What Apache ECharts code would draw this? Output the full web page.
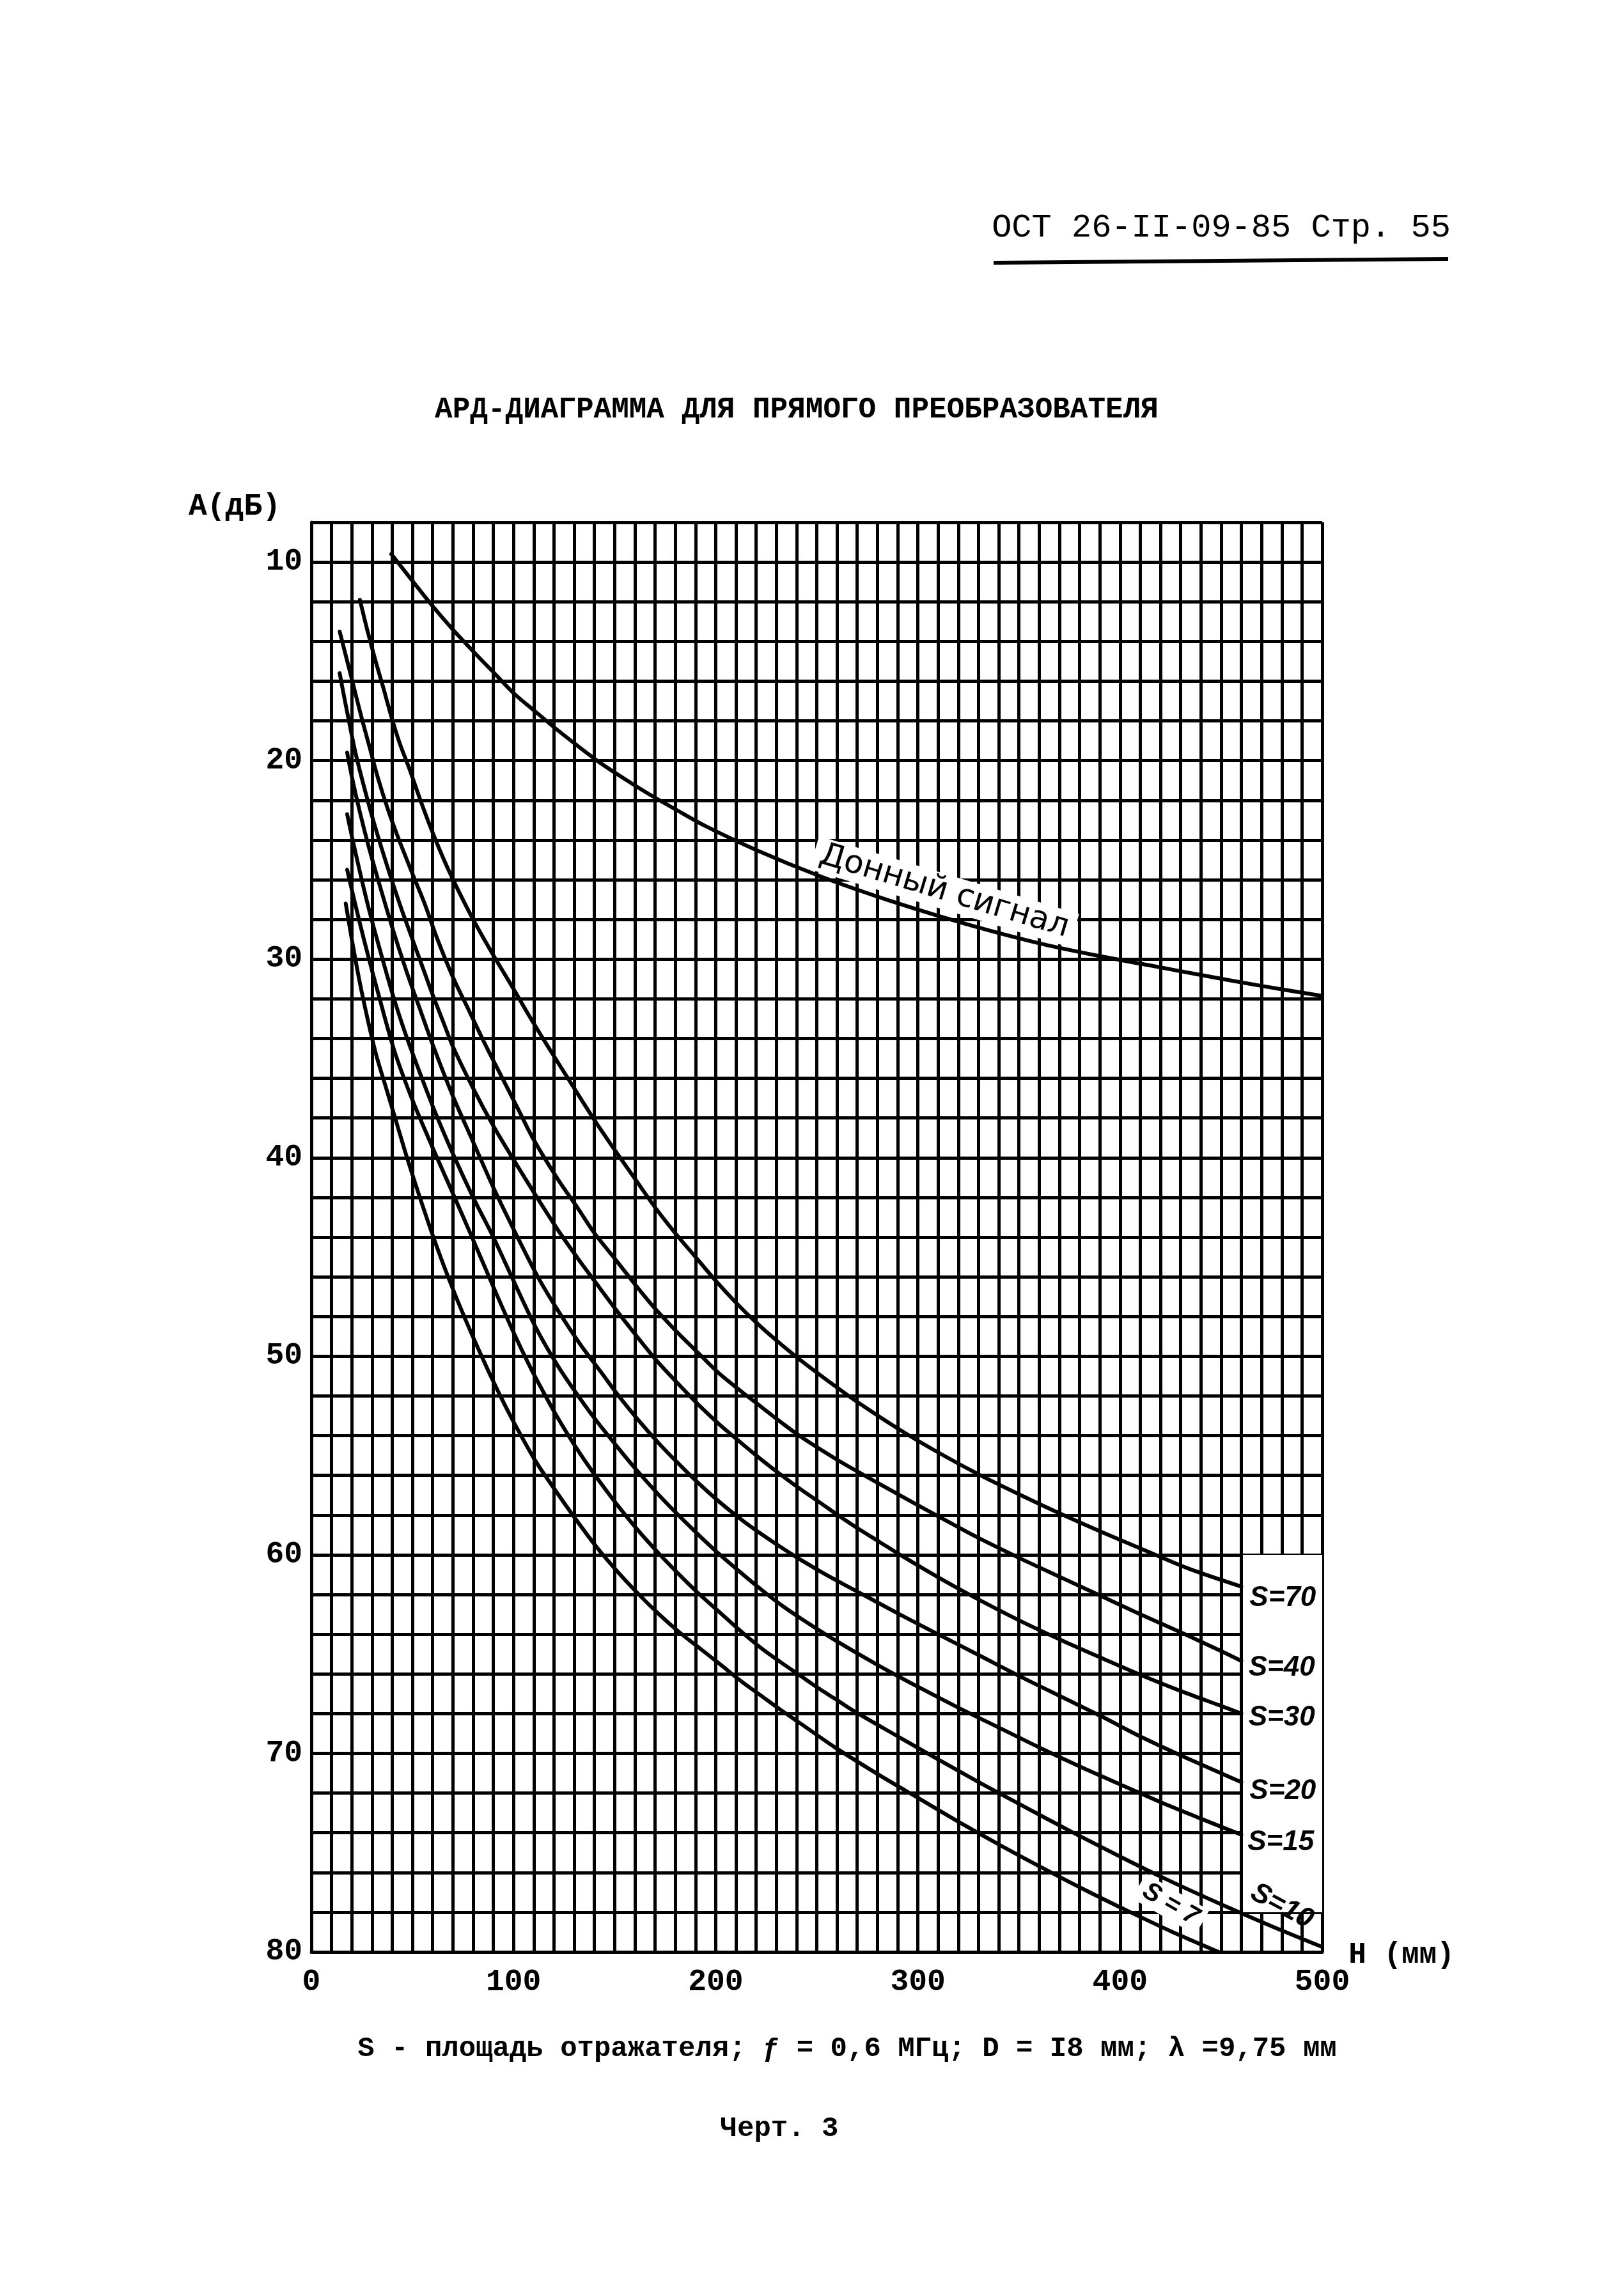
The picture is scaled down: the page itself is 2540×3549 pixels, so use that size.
<!DOCTYPE html>
<html>
<head>
<meta charset="utf-8">
<script src="https://cdn.jsdelivr.net/npm/echarts@6/dist/echarts.min.js"></script>
<style>
html,body{margin:0;padding:0;background:#fff;}
#c{width:2540px;height:3549px;}
</style>
</head>
<body>
<div id="c"></div>
<script>
// ---- tick labels ----
const xTickLabels = [0, 100, 200, 300, 400, 500];
const yTickLabels = [10, 20, 30, 40, 50, 60, 70, 80];

// ---- curve names ----
const curveNames = ['Донный сигнал', 'S=70', 'S=40', 'S=30', 'S=20', 'S=15', 'S=10', 'S=7'];

// ---- series values [H (мм), A (дБ)] ----
const donny = [[39.5,9.6],[50,10.95],[59,12.1],[70,13.4],[81,14.6],[91,15.65],[100,16.6],[111,17.55],[121,18.4],[131,19.2],[142,20.05],[150,20.6],[160,21.25],[170,21.87],[180,22.45],[195,23.3],[220,24.5],[251,25.8],[280,26.85],[311,27.85],[335,28.55],[362,29.25],[390,29.85],[414,30.3],[440,30.8],[470,31.35],[500,31.85]];

const s70 = [[24,11.9],[27.6,13.4],[31.8,15.0],[35.5,16.3],[39.6,17.8],[43.6,19.1],[48.8,20.5],[53.6,21.9],[59.5,23.5],[65.6,25.0],[72,26.4],[80,28.0],[90,29.8],[100,31.5],[108,32.9],[117,34.4],[130,36.5],[140,38.1],[150,39.6],[161,41.2],[170,42.5],[180,43.8],[190,45.0],[200,46.2],[210,47.3],[220,48.3],[230,49.2],[242,50.2],[259,51.5],[270,52.3],[291,53.7],[311,54.9],[331,56.0],[351,57.0],[372,58.0],[392,58.9],[414,59.85],[434,60.7],[460,61.6]];

const s40 = [[14,13.5],[18,15.1],[21,16.3],[25,17.9],[29,19.4],[33,20.9],[38,22.5],[43,23.9],[50,25.7],[56,27.2],[62,28.9],[70,30.9],[78,32.6],[86,34.3],[95,36.1],[102,37.5],[110,39.1],[122,41.1],[131.5,42.5],[140,43.8],[151,45.2],[161,46.5],[170,47.6],[182,48.9],[191,49.8],[201,50.8],[213,51.8],[222.5,52.55],[232,53.3],[242,54.05],[259,55.15],[270,55.8],[291,57.0],[309,58.0],[329,59.1],[351,60.2],[371,61.15],[390,62.05],[409,62.95],[431,63.95],[451,64.9],[460,65.35]];

const s30 = [[14,15.6],[17,17.2],[21.8,19.6],[26,21.3],[30,22.8],[35,24.5],[40,26.1],[45,27.6],[50,29.0],[55,30.4],[60,31.8],[65,33.1],[70,34.4],[80,36.5],[90,38.4],[100,40.1],[111,41.9],[123,43.8],[132,45.1],[140,46.2],[151,47.7],[161,49.0],[171,50.25],[182,51.45],[192,52.5],[202,53.45],[213,54.4],[222.5,55.2],[232,55.95],[242,56.7],[252,57.4],[259,57.9],[270,58.65],[281,59.35],[292,60.05],[312,61.25],[329,62.2],[351,63.35],[372,64.35],[392,65.25],[409,66.0],[431,66.9],[451,67.65],[460,68.0]];

const s20 = [[17.7,19.6],[20,20.8],[24,22.6],[28,24.2],[33,26.0],[40,28.4],[47,30.6],[54,32.6],[60,34.3],[70,36.9],[80,39.2],[90,41.5],[100,43.6],[112,46.0],[122,47.7],[133,49.4],[144,50.9],[152,52.0],[162,53.25],[172,54.4],[181,55.35],[191,56.35],[202,57.35],[213,58.25],[222.5,58.95],[232,59.6],[242,60.25],[252,60.85],[259,61.25],[270,61.85],[291,63.0],[309,63.95],[331,65.1],[351,66.15],[372,67.2],[392,68.2],[409,69.1],[431,70.15],[451,71.05],[460,71.45]];

const s15 = [[17.7,22.7],[20,23.8],[24,25.6],[28,27.3],[33,29.2],[40,31.7],[46,33.6],[51,35.0],[60,37.4],[70,39.8],[80,42.0],[90,44.0],[100,46.2],[111,48.55],[122,50.5],[132,52.0],[141,53.25],[152,54.65],[161,55.75],[172,57.0],[181,57.95],[191,58.95],[201,59.9],[213,60.95],[222.5,61.75],[232,62.5],[242,63.2],[259,64.3],[281,65.6],[301,66.7],[321,67.75],[341,68.75],[362,69.8],[382,70.75],[402,71.65],[421,72.5],[439,73.25],[460,74.1]];

const s10 = [[17.7,25.5],[20,26.5],[24,28.2],[28,29.8],[33,31.7],[41,34.6],[50,37.1],[60,39.5],[70,41.8],[79,43.9],[90,46.5],[100,48.8],[108,50.5],[115,51.85],[121,52.95],[130,54.45],[140,55.95],[151,57.45],[161,58.7],[172,59.95],[181,60.9],[191,61.9],[202,62.9],[213,63.9],[222.5,64.7],[232,65.4],[242,66.1],[252,66.8],[259,67.25],[268,67.85],[291,69.2],[309,70.25],[331,71.5],[351,72.6],[376,73.95],[401,75.25],[422,76.3],[451,77.65],[476,78.75],[500,79.75]];

const s7 = [[17,27.2],[20,29.0],[24,31.2],[28,33.1],[32,34.8],[37,36.5],[42,38.2],[47,39.9],[53,41.8],[60,43.9],[68,46.1],[76,48.1],[86,50.4],[93,51.9],[100,53.3],[111,55.3],[121,56.8],[130,58.1],[141,59.6],[151,60.8],[162,62.0],[172,63.0],[182,63.9],[192,64.7],[202,65.5],[213,66.4],[222.5,67.1],[232,67.8],[242,68.5],[259,69.7],[281,71.1],[301,72.3],[321,73.5],[342,74.7],[364,75.9],[384,76.95],[401,77.8],[426,79.0],[451,80.1]];

const curveData = [donny, s70, s40, s30, s20, s15, s10, s7];

// ---- texts ----
const headerText = 'ОСТ 26-II-09-85 Стр. 55';
const titleText = 'АРД-ДИАГРАММА ДЛЯ ПРЯМОГО ПРЕОБРАЗОВАТЕЛЯ';
const yNameText = 'A(дБ)';
const xNameText = 'H (мм)';
const captionText = 'S - площадь отражателя; ƒ = 0,6 МГц; D = I8 мм; λ =9,75 мм';
const figText = 'Черт. 3';

const chart = echarts.init(document.getElementById('c'));
const mono = '"Liberation Mono", "DejaVu Sans Mono", monospace';
const hand = '"Liberation Sans", "DejaVu Sans", sans-serif';

const lineSeries = curveData.map((d, i) => ({
  name: curveNames[i],
  type: 'line',
  data: d,
  z: 5,
  smooth: 0.3,
  symbol: 'none',
  silent: true,
  clip: true,
  lineStyle: { color: '#000', width: 6, cap: 'round', join: 'round' }
}));

// white label box at the right, with its left border
lineSeries.push({
  name: 'box',
  type: 'line',
  data: [],
  z: 3,
  symbol: 'none',
  silent: true,
  lineStyle: { width: 0 },
  markArea: {
    silent: true,
    itemStyle: { color: '#fff', opacity: 1 },
    label: { show: false },
    data: [[{ coord: [460, 60] }, { coord: [500, 78] }]]
  },
  markLine: {
    silent: true,
    symbol: ['none', 'none'],
    label: { show: false },
    lineStyle: { color: '#000', width: 5, type: 'solid' },
    data: [[{ coord: [460, 60] }, { coord: [460, 78] }]]
  }
});

const option = {
  backgroundColor: '#fff',
  animation: false,
  grid: { left: 487, right: 472, top: 817, bottom: 496, containLabel: false },
  xAxis: {
    type: 'value', min: 0, max: 500, interval: 10,
    axisLine: { show: true, onZero: false, lineStyle: { color: '#000', width: 5 } },
    axisTick: { show: false },
    splitLine: { show: true, lineStyle: { color: '#000', width: 5 } },
    axisLabel: {
      margin: 24, color: '#000', fontFamily: mono, fontSize: 48, fontWeight: 'bold',
      formatter: v => xTickLabels.includes(v) ? String(v) : ''
    }
  },
  yAxis: {
    type: 'value', inverse: true, min: 8, max: 80, interval: 2,
    axisLine: { show: true, onZero: false, lineStyle: { color: '#000', width: 5 } },
    axisTick: { show: false },
    splitLine: { show: true, lineStyle: { color: '#000', width: 5 } },
    axisLabel: {
      margin: 14, color: '#000', fontFamily: mono, fontSize: 48, fontWeight: 'bold',
      formatter: v => yTickLabels.includes(v) ? String(v) : ''
    }
  },
  series: lineSeries
};
chart.setOption(option);

function px(x, y) { return chart.convertToPixel({ xAxisIndex: 0, yAxisIndex: 0 }, [x, y]); }
function deg(d) { return d * Math.PI / 180; }

const graphics = [
  { type: 'text', x: 1910, y: 356, style: { text: headerText, x: 0, y: 0, textAlign: 'center', textVerticalAlign: 'middle', font: 'normal 52px ' + mono, fill: '#000' } },
  { type: 'line', shape: { x1: 1554, y1: 411, x2: 2265, y2: 405 }, style: { stroke: '#000', lineWidth: 6 } },
  { type: 'text', x: 1246, y: 641, style: { text: titleText, x: 0, y: 0, textAlign: 'center', textVerticalAlign: 'middle', font: 'bold 46px ' + mono, fill: '#000' } },
  { type: 'text', x: 367, y: 793, style: { text: yNameText, x: 0, y: 0, textAlign: 'center', textVerticalAlign: 'middle', font: 'bold 48px ' + mono, fill: '#000' } },
  { type: 'text', x: 2192, y: 3058, style: { text: xNameText, x: 0, y: 0, textAlign: 'center', textVerticalAlign: 'middle', font: 'bold 46px ' + mono, fill: '#000' } },
  { type: 'text', x: 1325, y: 3205, style: { text: captionText, x: 0, y: 0, textAlign: 'center', textVerticalAlign: 'middle', font: 'bold 44px ' + mono, fill: '#000' } },
  { type: 'text', x: 1219, y: 3330, style: { text: figText, x: 0, y: 0, textAlign: 'center', textVerticalAlign: 'middle', font: 'bold 44px ' + mono, fill: '#000' } }
];

// labels inside the plot, placed at data coordinates
const inPlot = [
  { t: curveNames[0], at: [313, 26.6], rot: -16.7, font: '50px "DejaVu Sans", sans-serif', bg: true },
  { t: curveNames[1], at: [480.5, 62.2], rot: 0, font: 'italic bold 44px ' + hand },
  { t: curveNames[2], at: [480, 65.7], rot: 0, font: 'italic bold 44px ' + hand },
  { t: curveNames[3], at: [480, 68.2], rot: 0, font: 'italic bold 44px ' + hand },
  { t: curveNames[4], at: [480.5, 71.9], rot: 0, font: 'italic bold 44px ' + hand },
  { t: curveNames[5], at: [479.5, 74.5], rot: 0, font: 'italic bold 44px ' + hand },
  { t: curveNames[6], at: [480, 77.7], rot: -28, font: 'italic bold 44px ' + hand },
  { t: 'S = 7', at: [425, 77.6], rot: -30, font: 'italic bold 40px ' + hand, bg: true }
];
inPlot.forEach(l => {
  const p = px(l.at[0], l.at[1]);
  const st = { text: l.t, x: 0, y: 0, textAlign: 'center', textVerticalAlign: 'middle', font: l.font, fill: '#000' };
  if (l.bg) { st.backgroundColor = '#fff'; st.padding = [2, 10, 2, 10]; }
  graphics.push({ type: 'text', x: p[0], y: p[1], rotation: deg(l.rot), z: 1, silent: true, style: st });
});

chart.setOption({ graphic: { elements: graphics } });
</script>
</body>
</html>
